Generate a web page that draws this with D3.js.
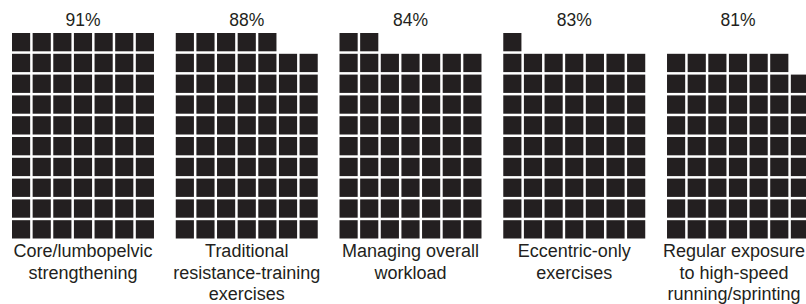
<!DOCTYPE html>
<html>
<head>
<meta charset="utf-8">
<script src="https://cdn.jsdelivr.net/npm/d3@7"></script>
<style>
  body { margin: 0; background: #fff; }
  text { font-family: "Liberation Sans", Arial, sans-serif; fill: #231f20; }
</style>
</head>
<body>
<svg></svg>
<script>
// one entry per waffle
let categories = [
    "Core/lumbopelvic strengthening",
    "Traditional resistance-training exercises",
    "Managing overall workload",
    "Eccentric-only exercises",
    "Regular exposure to high-speed running/sprinting"
];
let labelLines = [
    ["Core/lumbopelvic", "strengthening"],
    ["Traditional", "resistance-training", "exercises"],
    ["Managing overall", "workload"],
    ["Eccentric-only", "exercises"],
    ["Regular exposure", "to high-speed", "running/sprinting"]
];
let percents = [91, 88, 84, 83, 81];
let filled = [70, 68, 65, 64, 62];   // squares drawn in each waffle

const nCols = 7;
const nRows = 10;

let width = 806;
let height = 304;

let svg = d3.select("svg")
    .attr("width", width)
    .attr("height", height);

let panelScale = d3.scaleBand()
    .domain(categories)
    .range([12, 809])
    .paddingInner(0.133);

let colScale = d3.scaleBand()
    .domain(d3.range(nCols))
    .range([0, panelScale.bandwidth()])
    .paddingInner(0.12);

// row 0 is the bottom row
let rowScale = d3.scaleBand()
    .domain(d3.range(nRows))
    .range([238.5, 33])
    .paddingInner(0.12);

let panels = svg.selectAll(".panel")
    .data(categories)
    .enter()
    .append("g")
    .attr("class", "panel")
    .attr("transform", d => `translate(${panelScale(d)},0)`);

panels.selectAll("rect")
    .data((d, i) => d3.range(filled[i]))
    .enter()
    .append("rect")
    .attr("x", k => colScale(k % nCols))
    .attr("y", k => rowScale(Math.floor(k / nCols)))
    .attr("width", colScale.bandwidth())
    .attr("height", rowScale.bandwidth())
    .attr("fill", "#231f20");

panels.append("text")
    .attr("x", panelScale.bandwidth() / 2)
    .attr("y", 26)
    .attr("text-anchor", "middle")
    .style("font-size", "17.5px")
    .text((d, i) => percents[i] + "%");

let labels = panels.append("text")
    .attr("class", "label")
    .attr("text-anchor", "middle")
    .style("font-size", "18px");

labels.selectAll("tspan")
    .data((d, i) => labelLines[i])
    .enter()
    .append("tspan")
    .attr("x", panelScale.bandwidth() / 2)
    .attr("y", (d, j) => 257 + j * 21.5)
    .text(d => d);

// last label runs past the right edge, pull it back in
labels.each(function(d) {
    let widest = d3.max(d3.select(this).selectAll("tspan").nodes(), n => n.getComputedTextLength());
    let cx = panelScale(d) + panelScale.bandwidth() / 2;
    let room = width - 1 - widest / 2;
    if (cx > room) {
        d3.select(this).selectAll("tspan").attr("x", panelScale.bandwidth() / 2 - (cx - room));
    }
});
</script>
</body>
</html>
